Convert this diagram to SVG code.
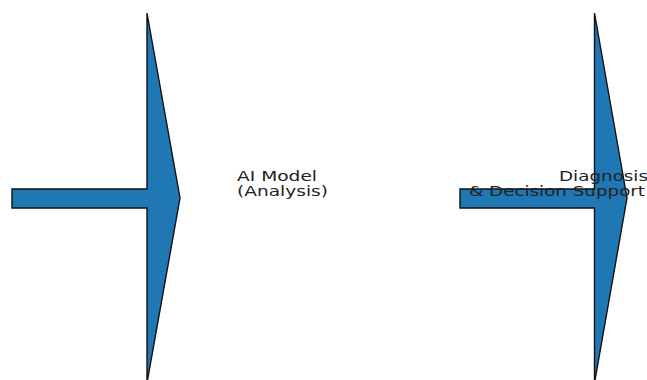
<svg xmlns="http://www.w3.org/2000/svg" width="647" height="380" viewBox="0 0 647 380">
<style>
.arrow{fill:#1f77b4;stroke:#111;stroke-width:1.4;stroke-linejoin:miter}
.lbl{font-family:"DejaVu Sans",sans-serif;font-size:14.5px;fill:#222}
</style>
<rect width="647" height="380" fill="#fff"/>
<g id="connectors">
<path id="arrow1" class="arrow" d="M12,189 L147,189 L147,13 L180,198 L147,383 L147,208 L12,208 Z"/>
<path id="arrow2" class="arrow" d="M460,189 L594.5,189 L594.5,13 L627,198 L594.5,383 L594.5,208 L460,208 Z"/>
</g>
<g id="node-ai-model">
<text class="lbl" x="237" y="181" textLength="80" lengthAdjust="spacingAndGlyphs">AI Model</text>
<text class="lbl" x="237" y="196" textLength="91" lengthAdjust="spacingAndGlyphs">(Analysis)</text>
</g>
<g id="node-diagnosis">
<text class="lbl" x="559" y="181" textLength="89" lengthAdjust="spacingAndGlyphs">Diagnosis</text>
<text class="lbl" x="469" y="196" textLength="176" lengthAdjust="spacingAndGlyphs">&amp; Decision Support</text>
</g>
</svg>
